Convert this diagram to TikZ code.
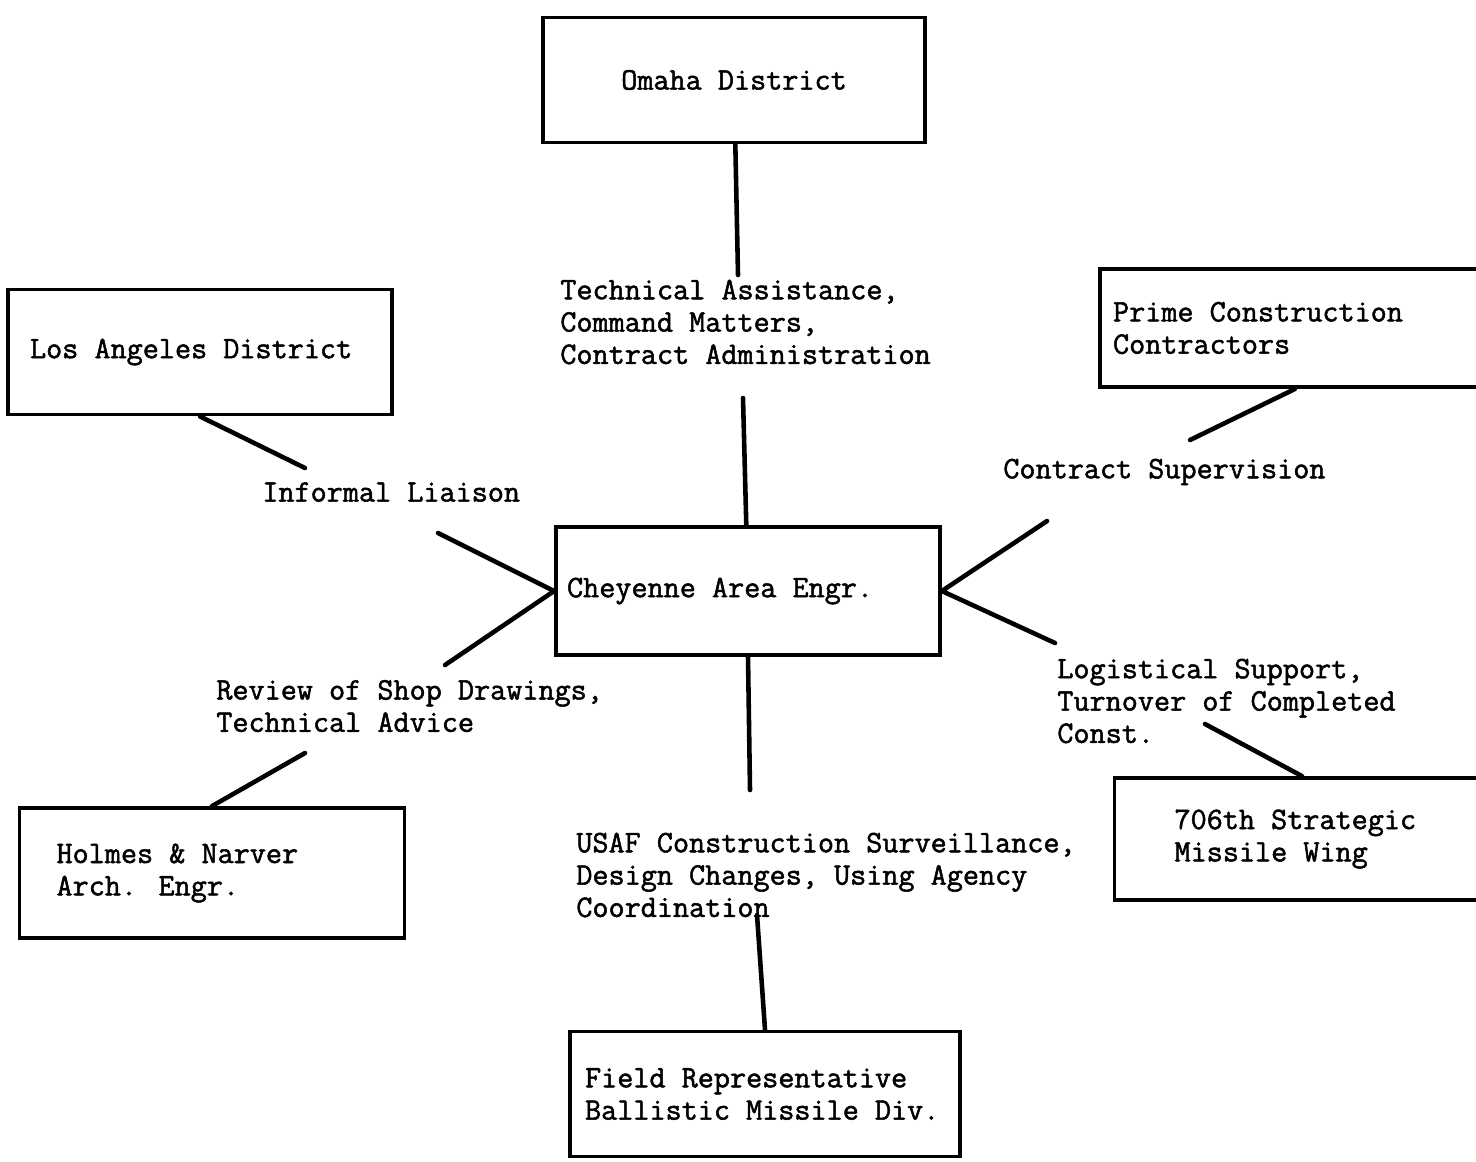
\documentclass[tikz,border=0pt]{standalone}
\usepackage{fontspec}
\newfontfamily\typefont{Latin Modern Mono}[FakeBold=1.6]
\newcommand{\typewr}{\typefont\fontsize{17.8}{18.4}\selectfont}
\tikzset{
  unit/.style={draw,line width=2.2pt,align=flush left,font=\typewr,inner ysep=0pt},
  duty/.style={anchor=west,align=flush left,inner sep=0pt,font=\typewr},
  link/.style={line width=2.6pt,line cap=round},
}

\begin{document}
\begin{tikzpicture}[x=0.02cm,y=-0.02cm]
  \clip (0,0) rectangle (1476,1161);
  % offices
  \node[unit,align=center,minimum width=7.64cm,minimum height=2.5cm] (omaha) at (734,80) {Omaha District};
  \node[unit,minimum width=7.68cm,minimum height=2.5cm,text width=6.8cm,inner xsep=0.44cm] (losangeles) at (200,352) {Los Angeles District};
  \node[unit,minimum height=2.36cm,text width=7.28cm,inner xsep=0.26cm] (prime) at (1295,328) {Prime Construction\\Contractors};
  \node[unit,minimum height=2.56cm,text width=7.24cm,inner xsep=0.22cm] (cheyenne) at (748,591) {Cheyenne Area Engr.};
  \node[unit,minimum height=2.6cm,text width=6.22cm,inner xsep=0.74cm] (holmes) at (212,873) {Holmes \& Narver\\Arch. Engr.};
  \node[unit,minimum height=2.44cm,text width=5.1cm,inner xsep=1.2cm] (wing) at (1302,839) {706th Strategic\\Missile Wing};
  \node[unit,minimum height=2.5cm,text width=7.2cm,inner xsep=0.3cm] (field) at (765,1094) {Field Representative\\Ballistic Missile Div.};
  % duties
  \node[duty] (assist)    at (560,322)  {Technical Assistance,\\Command Matters,\\Contract Administration};
  \node[duty] (liaison)   at (262,492)  {Informal Liaison};
  \node[duty] (review)    at (216,706)  {Review of Shop Drawings,\\Technical Advice};
  \node[duty] (supervise) at (1003,472) {Contract Supervision};
  \node[duty] (logistic)  at (1057,701) {Logistical Support,\\Turnover of Completed\\Const.};
  \node[duty] (surveil)   at (576,875)  {USAF Construction Surveillance,\\Design Changes, Using Agency\\Coordination};
  % line ends beside the duties
  \coordinate (a1) at (738,275);
  \coordinate (a2) at (743,398);
  \coordinate (l1) at (305,468);
  \coordinate (l2) at (438,533);
  \coordinate (r1) at (445,665);
  \coordinate (r2) at (305,753);
  \coordinate (s1) at (1047,521);
  \coordinate (s2) at (1190,440);
  \coordinate (g1) at (1055,643);
  \coordinate (g2) at (1205,724);
  \coordinate (u1) at (750,790);
  \coordinate (u2) at (757,915);
  \path[link]
    (omaha) edge (a1)
    (a2) edge (cheyenne)
    (losangeles.south) edge (l1)
    (l2) edge (cheyenne.west)
    (cheyenne.west) edge (r1)
    (r2) edge (holmes.north)
    (cheyenne.east) edge (s1)
    (s2) edge (prime.south)
    (cheyenne.east) edge (g1)
    (g2) edge (wing.north)
    (cheyenne.south) edge (u1)
    (u2) edge (field.north);
\end{tikzpicture}
\end{document}
